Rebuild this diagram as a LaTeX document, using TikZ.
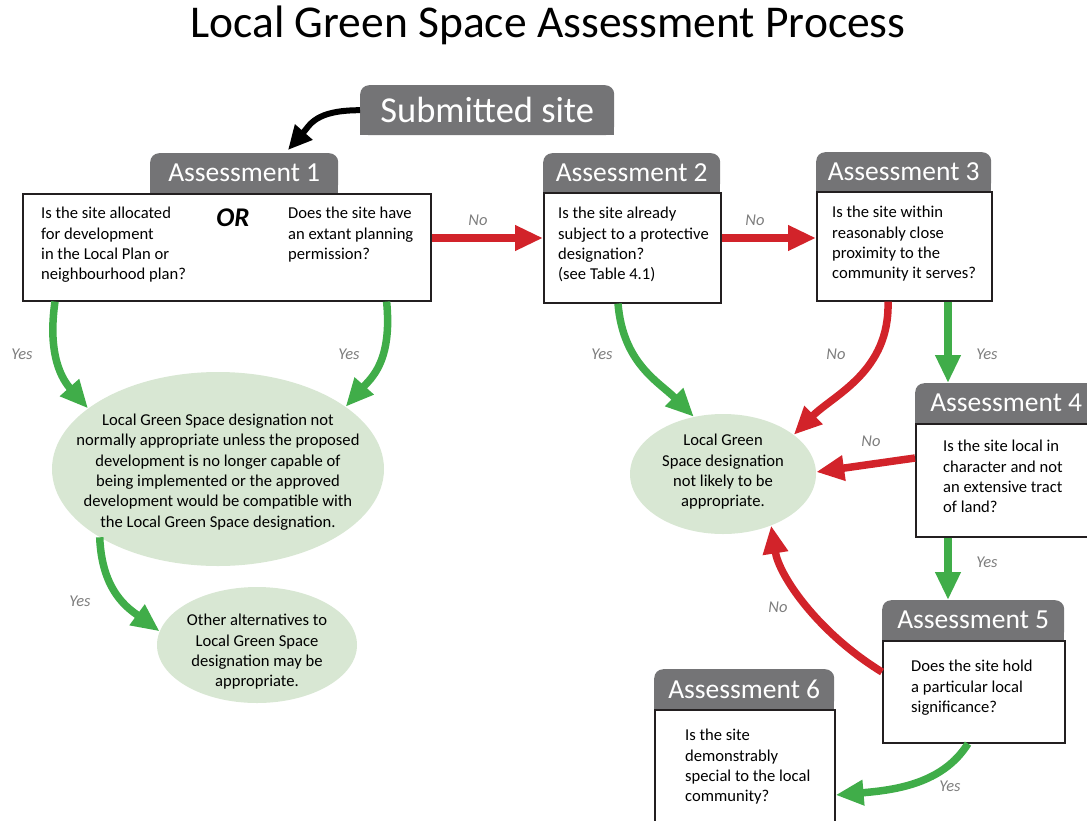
\documentclass[tikz,border=0pt]{standalone}
\usepackage{fontspec}
\setmainfont{Carlito}
\usetikzlibrary{arrows.meta,backgrounds,positioning,shapes.geometric}
\definecolor{tabgrey}{RGB}{116,116,118}
\definecolor{yesgreen}{RGB}{64,173,73}
\definecolor{nored}{RGB}{210,35,42}
\definecolor{leafbg}{RGB}{216,231,211}
\definecolor{anscol}{RGB}{125,125,125}
\definecolor{boxline}{RGB}{35,31,32}
\newcommand{\bodyfont}{\fontsize{16.6}{20.3}\selectfont}
\newcommand{\tabfont}{\fontsize{27.5}{27.5}\selectfont}
\tikzset{
  heading/.style={font=\fontsize{45.5}{45.5}\selectfont, inner sep=0pt},
  tab/.style={fill=tabgrey, text=white, rounded corners=9pt, anchor=north west,
    inner sep=0pt, font=\tabfont},
  qbox/.style={draw=boxline, line width=1.6pt, fill=white, anchor=north west,
    inner sep=0pt},
  qtext/.style={anchor=north west, align=left, inner sep=0pt, font=\bodyfont},
  leaf/.style={ellipse, fill=leafbg, inner sep=0pt},
  leaftext/.style={align=center, inner sep=0pt, font=\bodyfont},
  ans/.style={text=anscol, font=\fontsize{16.5}{16.5}\selectfont\itshape, inner sep=0pt},
  yesarrow/.style={draw=yesgreen, line width=7.5pt,
    -{Triangle[length=28pt,width=24pt]}},
  noarrow/.style={draw=nored, line width=7.5pt,
    -{Triangle[length=28pt,width=24pt]}},
  startarrow/.style={draw=black, line width=6pt,
    -{Triangle[length=24pt,width=22pt]}},
}

\begin{document}
\begin{tikzpicture}[x=1pt,y=-1pt]
  \useasboundingbox (0,0) rectangle (1087,820);
  \clip (0,0) rectangle (1087,820);

  \node[heading] (title) at (548,25) {Local Green Space Assessment Process};

  % submitted site
  \node[tab, minimum width=254pt, minimum height=50pt,
    font=\fontsize{36.5}{36.5}\selectfont] (sub) at (360,85) {Submitted site};

  % assessment tabs
  \node[tab, minimum width=188pt, minimum height=40pt] (tone) at (150,153) {Assessment 1};
  \node[tab, minimum width=177pt, minimum height=39pt] (ttwo) at (543,153) {Assessment 2};
  \node[tab, minimum width=175pt, minimum height=39pt] (tthree) at (816,152) {Assessment 3};
  \node[tab, minimum width=182pt, minimum height=40pt] (tfour) at (915,383) {Assessment 4};
  \node[tab, minimum width=182pt, minimum height=40pt] (tfive) at (882,600) {Assessment 5};
  \node[tab, minimum width=180pt, minimum height=40pt] (tsix) at (654,669) {Assessment 6};

  % square off the lower corners of the tabs
  \begin{scope}[on background layer]
    \foreach \t in {sub,tone,ttwo,tthree,tfour,tfive,tsix}
      \fill[tabgrey] (\t.west) rectangle (\t.south east);
  \end{scope}

  % question boxes
  \node[qbox, minimum width=408pt, minimum height=107pt] (qone) at (22,193) {};
  \node[qbox, minimum width=177pt, minimum height=110pt] (qtwo) at (543,192) {};
  \node[qbox, minimum width=175pt, minimum height=109pt] (qthree) at (816,191) {};
  \node[qbox, minimum width=190pt, minimum height=113pt] (qfour) at (915,423) {};
  \node[qbox, minimum width=182pt, minimum height=102pt] (qfive) at (882,640) {};
  \node[qbox, minimum width=180pt, minimum height=130pt] (qsix) at (654,709) {};

  \node[qtext] (qonea) at ([shift={(19,14)}]qone.north west)
    {Is the site allocated\\for development\\in the Local Plan or\\neighbourhood plan?};
  \node[inner sep=0pt, font=\fontsize{27}{27}\selectfont\bfseries\itshape]
    (qoneor) at ([shift={(211,25)}]qone.north west) {OR};
  \node[qtext] (qoneb) at ([shift={(266,14)}]qone.north west)
    {Does the site have\\an extant planning\\permission?};
  \node[qtext] (qtwotext) at ([shift={(15,15)}]qtwo.north west)
    {Is the site already\\subject to a protective\\designation?\\(see Table 4.1)};
  \node[qtext] (qthreetext) at ([shift={(16,15)}]qthree.north west)
    {Is the site within\\reasonably close\\proximity to the\\community it serves?};
  \node[qtext] (qfourtext) at ([shift={(28,17)}]qfour.north west)
    {Is the site local in\\character and not\\an extensive tract\\of land?};
  \node[qtext] (qfivetext) at ([shift={(29,20)}]qfive.north west)
    {Does the site hold\\a particular local\\significance?};
  \node[qtext] (qsixtext) at ([shift={(31,20)}]qsix.north west)
    {Is the site\\demonstrably\\special to the local\\community?};

  % outcomes
  \node[leaf, minimum width=332pt, minimum height=194pt] (big) at (218,469) {};
  \node[leaftext] (bigtext) at ([shift={(0,3)}]big.center)
    {Local Green Space designation not\\normally appropriate unless the proposed\\development is no longer capable of\\being implemented or the approved\\development would be compatible with\\the Local Green Space designation.};
  \node[leaf, minimum width=200pt, minimum height=116pt] (alt) at (257,645) {};
  \node[leaftext] (alttext) at ([shift={(0,7)}]alt.center)
    {Other alternatives to\\Local Green Space\\designation may be\\appropriate.};
  \node[leaf, minimum width=186pt, minimum height=120pt] (unlikely) at (723,474) {};
  \node[leaftext] (unlikelytext) at ([shift={(0,-2)}]unlikely.center)
    {Local Green\\Space designation\\not likely to be\\appropriate.};

  % connectors
  \draw[startarrow] (sub.west) .. controls +(-45,0) and +(22,-25) .. ([shift={(138,-3)}]tone.north west);
  \draw[noarrow] ([shift={(0,45)}]qone.north east) -- ([shift={(0,46)}]qtwo.north west);
  \draw[noarrow] ([shift={(0,46)}]qtwo.north east) -- ([shift={(0,47)}]qthree.north west);
  \draw[yesarrow] ([xshift=33]qone.south west) .. controls +(-8,55) and +(-25,-28) .. (big.155);
  \draw[yesarrow] ([xshift=-45]qone.south east) .. controls +(6,60) and +(25,-28) .. (big.26);
  \draw[yesarrow] (big.210) .. controls +(2,55) and +(-30,-22) .. (alt.172);
  \draw[yesarrow] ([xshift=75]qtwo.south west) .. controls +(5,60) and +(-35,-35) .. (unlikely.117);
  \draw[noarrow] ([xshift=72]qthree.south west) .. controls +(2,70) and +(40,-40) .. (unlikely.29);
  \draw[yesarrow] ([xshift=132]qthree.south west) -- ([xshift=33]tfour.north west);
  \draw[noarrow] ([shift={(0,35)}]qfour.north west) -- ([shift={(0,-2)}]unlikely.east);
  \draw[yesarrow] ([xshift=33]qfour.south west) -- ([xshift=66]tfive.north west);
  \draw[noarrow] ([shift={(0,32)}]qfive.north west) .. controls +(-65,-40) and +(8,50) .. (unlikely.313);
  \draw[yesarrow] ([xshift=86]qfive.south west) .. controls +(-25,40) and +(60,-5) .. ([shift={(0,86)}]qsix.north east);

  % answers
  \node[ans] (noab) at (478,220) {No};
  \node[ans] (nobc) at (755,220) {No};
  \node[ans] (yesl) at (22,354) {Yes};
  \node[ans] (yesr) at (349,354) {Yes};
  \node[ans] (yesalt) at (80,601) {Yes};
  \node[ans] (yestwo) at (602,354) {Yes};
  \node[ans] (nothree) at (836,354) {No};
  \node[ans] (yesthree) at (987,354) {Yes};
  \node[ans] (nofour) at (871,441) {No};
  \node[ans] (yesfour) at (987,562) {Yes};
  \node[ans] (nofive) at (778,607) {No};
  \node[ans] (yesfive) at (950,786) {Yes};
\end{tikzpicture}
\end{document}
